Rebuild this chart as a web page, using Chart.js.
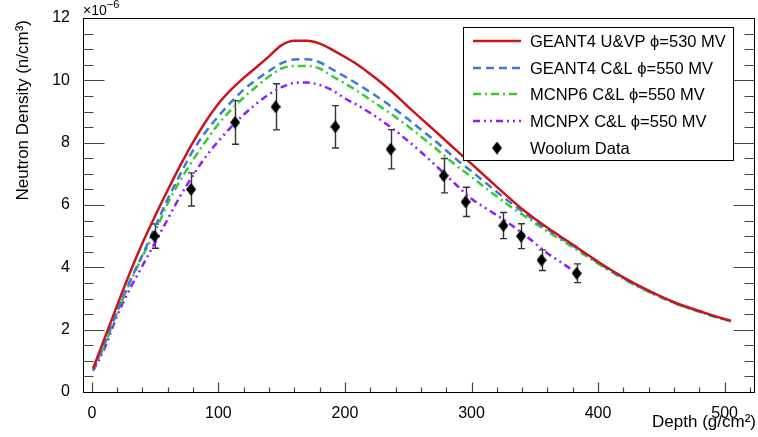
<!DOCTYPE html>
<html>
<head>
<meta charset="utf-8">
<script src="https://cdn.jsdelivr.net/npm/chart.js@4.4.0/dist/chart.umd.min.js"></script>
<style>
html, body { margin: 0; padding: 0; background: #fff; overflow: hidden; }
#wrap { width: 762px; height: 437px; }
</style>
</head>
<body>
<div id="wrap"><canvas id="chart"></canvas></div>
<script>
// depth grid (g/cm2) shared by the three full-range simulations
const depthGrid = [1, 10, 20, 30, 40, 50, 60, 70, 80, 90,
    100, 110, 120, 130, 140, 150, 160, 170, 180, 190,
    200, 210, 220, 230, 240, 250, 260, 270, 280, 290,
    300, 310, 320, 330, 340, 350, 360, 370, 380, 390,
    400, 420, 440, 460, 480, 500, 505];
// neutron density, x 1e-6 n/cm3
const geantUVP = [0.76, 1.72, 2.78, 3.82, 4.78, 5.65, 6.48, 7.28, 8.02, 8.68,
    9.25, 9.7, 10.08, 10.42, 10.77, 11.13, 11.27, 11.27, 11.18, 10.98,
    10.75, 10.5, 10.2, 9.88, 9.53, 9.15, 8.78, 8.42, 8.05, 7.68,
    7.32, 6.95, 6.58, 6.22, 5.87, 5.56, 5.27, 5.0, 4.73, 4.45,
    4.18, 3.68, 3.25, 2.88, 2.6, 2.34, 2.29];
const geantCL = [0.72, 1.55, 2.6, 3.55, 4.4, 5.3, 6.2, 7.0, 7.75, 8.35,
    8.85, 9.3, 9.7, 10.02, 10.3, 10.55, 10.67, 10.68, 10.58, 10.35,
    10.12, 9.88, 9.62, 9.35, 9.06, 8.75, 8.42, 8.1, 7.75, 7.4,
    7.08, 6.75, 6.42, 6.1, 5.8, 5.5, 5.22, 4.96, 4.7, 4.43,
    4.15, 3.65, 3.23, 2.87, 2.58, 2.33, 2.28];
const mcnp6CL = [0.7, 1.5, 2.55, 3.5, 4.35, 5.15, 6.05, 6.8, 7.45, 8.05,
    8.6, 9.05, 9.45, 9.8, 10.12, 10.38, 10.46, 10.46, 10.38, 10.13,
    9.9, 9.65, 9.38, 9.1, 8.82, 8.52, 8.2, 7.87, 7.53, 7.2,
    6.9, 6.58, 6.27, 5.97, 5.7, 5.42, 5.15, 4.9, 4.65, 4.38,
    4.12, 3.63, 3.21, 2.86, 2.57, 2.32, 2.27];
// MCNPX stops at the last measured depth
const mcnpxDepth = [1, 10, 20, 30, 40, 50, 60, 70, 80, 90,
    100, 110, 120, 130, 140, 150, 160, 170, 180, 190,
    200, 210, 220, 230, 240, 250, 260, 270, 280, 290,
    300, 310, 320, 330, 340, 350, 360, 370, 380, 386];
const mcnpxCL = [0.68, 1.4, 2.45, 3.3, 4.05, 4.8, 5.55, 6.3, 6.95, 7.55,
    8.05, 8.5, 8.9, 9.25, 9.55, 9.78, 9.92, 9.93, 9.85, 9.68,
    9.42, 9.2, 8.95, 8.68, 8.38, 8.05, 7.7, 7.33, 6.95, 6.57,
    6.2, 5.93, 5.67, 5.4, 5.1, 4.78, 4.45, 4.18, 3.9, 3.72];
// Woolum measurements
const woolumDepth = [49.5, 78.4, 113.2, 145.2, 192.4, 236.1, 278, 295.3, 325.2, 339.1, 355.3, 383.1];
const woolumDens = [5.0, 6.5, 8.65, 9.15, 8.51, 7.79, 6.94, 6.10, 5.34, 5.0, 4.23, 3.81];
const woolumErr = [0.39, 0.53, 0.7, 0.74, 0.68, 0.63, 0.55, 0.47, 0.42, 0.4, 0.33, 0.3];

const legendLabels = ['GEANT4 U&VP \u03d5=530 MV', 'GEANT4 C&L \u03d5=550 MV',
    'MCNP6 C&L \u03d5=550 MV', 'MCNPX C&L \u03d5=550 MV', 'Woolum Data'];
const xTicks = [0, 100, 200, 300, 400, 500];
const yTicks = [0, 2, 4, 6, 8, 10, 12];

const FONT = '"Liberation Sans", Arial, sans-serif';

function pts(xs, ys) {
    return xs.map((x, i) => ({x: x, y: ys[i]}));
}

// tall diamond marker like ROOT's
const diamond = document.createElement('canvas');
diamond.width = 10;
diamond.height = 13;
(function () {
    const c = diamond.getContext('2d');
    c.fillStyle = '#000';
    c.beginPath();
    c.moveTo(5, 0); c.lineTo(10, 6.5); c.lineTo(5, 13); c.lineTo(0, 6.5);
    c.closePath();
    c.fill();
})();

const rootFrame = {
    id: 'rootFrame',
    beforeDatasetsDraw(chart) {
        const ctx = chart.ctx, xs = chart.scales.x, ys = chart.scales.y;
        ctx.save();
        ctx.strokeStyle = '#333';
        ctx.lineWidth = 1.4;
        for (let i = 0; i < woolumDepth.length; i++) {
            const px = Math.round(xs.getPixelForValue(woolumDepth[i])) + 0.5;
            const lo = ys.getPixelForValue(woolumDens[i] - woolumErr[i]);
            const hi = ys.getPixelForValue(woolumDens[i] + woolumErr[i]);
            ctx.beginPath();
            ctx.moveTo(px, lo); ctx.lineTo(px, hi);
            ctx.moveTo(px - 3.5, lo); ctx.lineTo(px + 3.5, lo);
            ctx.moveTo(px - 3.5, hi); ctx.lineTo(px + 3.5, hi);
            ctx.stroke();
        }
        ctx.restore();
    },
    afterDraw(chart) {
        const ctx = chart.ctx, a = chart.chartArea;
        const xs = chart.scales.x, ys = chart.scales.y;
        const L = Math.round(a.left) + 0.5, R = Math.round(a.right) - 0.5;
        const T = Math.round(a.top) + 0.5, B = Math.round(a.bottom) + 0.5;
        ctx.save();

        // ticks, pointing into the frame
        ctx.strokeStyle = '#444';
        ctx.lineWidth = 1.2;
        ctx.beginPath();
        for (let v = 0; v <= 524; v += 20) {
            const px = Math.round(xs.getPixelForValue(v)) + 0.5;
            const len = (v % 100 === 0) ? 10 : 5;
            ctx.moveTo(px, B); ctx.lineTo(px, B - len);
        }
        for (let v = 0; v <= 12; v += 0.5) {
            const py = Math.round(ys.getPixelForValue(v)) + 0.5;
            const len = (v % 2 === 0) ? 21 : 10;
            ctx.moveTo(L, py); ctx.lineTo(L + len, py);
            ctx.moveTo(R, py); ctx.lineTo(R - len, py);
        }
        ctx.stroke();

        // frame
        ctx.strokeStyle = '#000';
        ctx.lineWidth = 1;
        ctx.strokeRect(L, T, R - L, B - T);

        // legend
        const lx = 463.5, ly = 27.5, lw = 270, lh = 133;
        ctx.fillStyle = '#fff';
        ctx.fillRect(lx, ly, lw, lh);
        ctx.strokeRect(lx, ly, lw, lh);
        const rows = [41, 68, 94, 121, 148];
        ctx.font = '16.5px ' + FONT;
        ctx.textBaseline = 'middle';
        ctx.textAlign = 'left';
        chart.data.datasets.forEach((ds, i) => {
            const y = rows[i];
            if (ds.showLine) {
                ctx.save();
                ctx.strokeStyle = ds.borderColor;
                ctx.lineWidth = ds.borderWidth;
                ctx.setLineDash(ds.borderDash || []);
                ctx.beginPath();
                ctx.moveTo(473, y); ctx.lineTo(521, y);
                ctx.stroke();
                ctx.restore();
            } else {
                ctx.drawImage(diamond, 497 - 5, y - 6.5);
            }
            ctx.fillStyle = '#000';
            ctx.fillText(legendLabels[i], 530, y + 1);
        });

        // axis titles
        ctx.fillStyle = '#000';
        ctx.font = '17px ' + FONT;
        ctx.textAlign = 'right';
        ctx.textBaseline = 'alphabetic';
        ctx.fillText('Depth (g/cm\u00b2)', 756, 427);

        ctx.save();
        ctx.translate(28, 20);
        ctx.rotate(-Math.PI / 2);
        ctx.textAlign = 'right';
        ctx.fillText('Neutron Density (n/cm\u00b3)', 0, 0);
        ctx.restore();

        // multiplier
        ctx.textAlign = 'left';
        ctx.font = '14px ' + FONT;
        ctx.fillText('\u00d710', 83, 15);
        const w = ctx.measureText('\u00d710').width;
        ctx.font = '11px ' + FONT;
        ctx.fillText('\u22126', 83 + w, 8);

        ctx.restore();
    }
};

const ctx = document.getElementById('chart').getContext('2d');
const chart = new Chart(ctx, {
    type: 'scatter',
    data: {
        datasets: [{
            data: pts(depthGrid, geantUVP),
            showLine: true, borderColor: '#c8161d', borderWidth: 2.5,
            pointRadius: 0, cubicInterpolationMode: 'monotone', order: 1
        }, {
            data: pts(depthGrid, geantCL),
            showLine: true, borderColor: '#4178d8', borderWidth: 2.5, borderDash: [8, 5],
            pointRadius: 0, cubicInterpolationMode: 'monotone', order: 2
        }, {
            data: pts(depthGrid, mcnp6CL),
            showLine: true, borderColor: '#36cc2e', borderWidth: 2.5, borderDash: [8, 4, 2, 4],
            pointRadius: 0, cubicInterpolationMode: 'monotone', order: 3
        }, {
            data: pts(mcnpxDepth, mcnpxCL),
            showLine: true, borderColor: '#8e1cff', borderWidth: 2.5, borderDash: [7, 4, 2, 4, 2, 4],
            pointRadius: 0, cubicInterpolationMode: 'monotone', order: 4
        }, {
            data: pts(woolumDepth, woolumDens),
            showLine: false, pointStyle: diamond, pointRadius: 6, order: 0
        }]
    },
    options: {
        responsive: true,
        maintainAspectRatio: false,
        animation: false,
        devicePixelRatio: 1,
        layout: { padding: { top: 18, right: 2, bottom: 0, left: 0 } },
        plugins: { legend: { display: false }, tooltip: { enabled: false } },
        scales: {
            x: {
                type: 'linear', min: -7, max: 524,
                afterFit: (s) => { s.height = 45; },
                grid: { display: false }, border: { display: false },
                afterBuildTicks: (s) => { s.ticks = xTicks.map(v => ({value: v})); },
                ticks: { font: { size: 16, family: FONT }, color: '#000', padding: 4,
                         maxRotation: 0, autoSkip: false }
            },
            y: {
                type: 'linear', min: 0, max: 12,
                afterFit: (s) => { s.width = 83; },
                grid: { display: false }, border: { display: false },
                afterBuildTicks: (s) => { s.ticks = yTicks.map(v => ({value: v})); },
                ticks: { font: { size: 16, family: FONT }, color: '#000', padding: 5 }
            }
        }
    },
    plugins: [rootFrame]
});
</script>
</body>
</html>
